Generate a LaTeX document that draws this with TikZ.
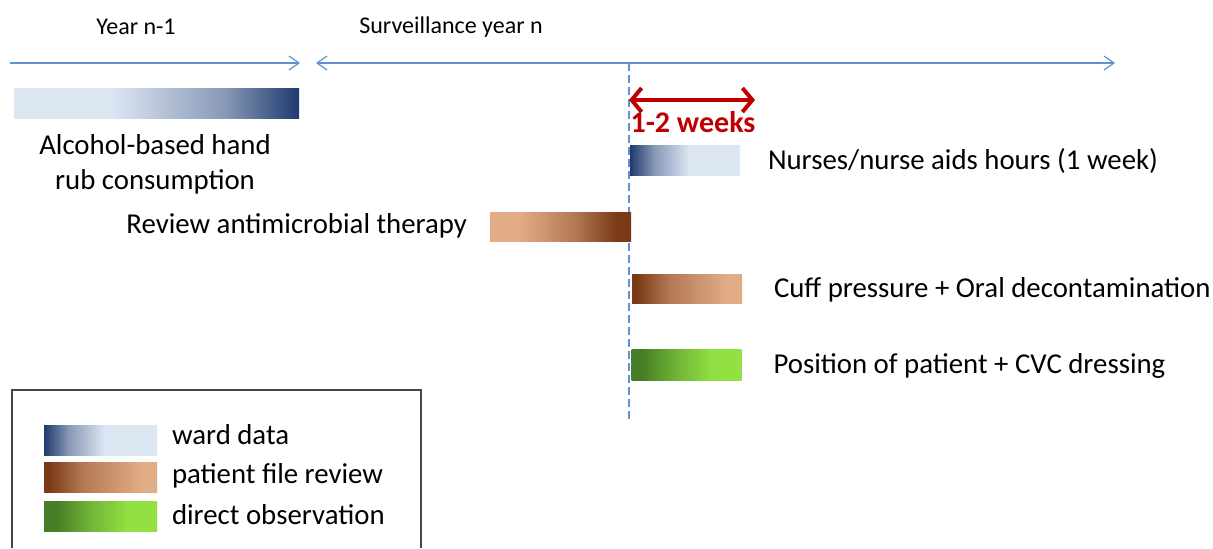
\documentclass[tikz,border=0pt]{standalone}
\usepackage{fontspec}
\setmainfont{Carlito}
\usetikzlibrary{arrows.meta,positioning}
\definecolor{warddark}{RGB}{31,58,110}
\definecolor{wardlight}{RGB}{221,230,243}
\colorlet{wardmid}{warddark!45!wardlight}
\definecolor{filedark}{RGB}{122,58,22}
\definecolor{filelight}{RGB}{226,172,135}
\colorlet{filemid}{filedark!45!filelight}
\definecolor{obsdark}{RGB}{70,125,38}
\definecolor{obslight}{RGB}{146,224,66}
\colorlet{obsmid}{obsdark!45!obslight}
\definecolor{timeblue}{RGB}{98,144,208}
\definecolor{spanred}{RGB}{192,0,0}
\definecolor{framegray}{RGB}{70,70,70}
% fades, dark end first
\pgfdeclarehorizontalshading{wardfade}{100bp}{color(0bp)=(warddark); color(25bp)=(warddark); color(36bp)=(wardmid); color(52bp)=(wardlight); color(100bp)=(wardlight)}
\pgfdeclarehorizontalshading{wardrise}{100bp}{color(0bp)=(wardlight); color(42bp)=(wardlight); color(62bp)=(wardmid); color(75bp)=(warddark); color(100bp)=(warddark)}
\pgfdeclarehorizontalshading{filefade}{100bp}{color(0bp)=(filedark); color(27bp)=(filedark); color(42bp)=(filemid); color(68bp)=(filelight); color(100bp)=(filelight)}
\pgfdeclarehorizontalshading{filerise}{100bp}{color(0bp)=(filelight); color(35bp)=(filelight); color(55bp)=(filemid); color(70bp)=(filedark); color(100bp)=(filedark)}
\pgfdeclarehorizontalshading{obsfade}{100bp}{color(0bp)=(obsdark); color(30bp)=(obsdark); color(45bp)=(obsmid); color(62bp)=(obslight); color(100bp)=(obslight)}
\tikzset{barb/.tip={Straight Barb[length=5pt,width=7pt]},
  bigbarb/.tip={Straight Barb[length=5pt,width=12pt]}}
\begin{document}
\begin{tikzpicture}[x=0.5pt,y=-0.5pt,
    every node/.style={inner sep=0pt,outer sep=0pt},
    bar/.style={minimum width=55pt,minimum height=15pt},
    big/.style={font=\fontsize{14.4}{17.5}\selectfont},
    txt/.style={big,text height=1.6ex,text depth=.3ex},
    small/.style={font=\fontsize{12}{14}\selectfont},
    axis/.style={timeblue,line width=0.6pt}]
  \useasboundingbox (0,0) rectangle (1213,548);
  % time axis
  \coordinate (t0) at (10,63);   \coordinate (t1) at (300,63);
  \coordinate (t2) at (316,63);  \coordinate (t3) at (1115,63);
  \draw[axis,-barb] (t0) -- (t1);
  \draw[axis,barb-barb] (t2) -- (t3);
  \node[small] (prev) at (136,27) {Year n-1};
  \node[small] (cur) at (451,27) {Surveillance year n};
  % start of year n and the 1-2 weeks window
  \coordinate (s0) at (629,63);  \coordinate (s1) at (629,422);
  \draw[timeblue,line width=0.6pt,dash pattern=on 4pt off 2pt] (s0) -- (s1);
  \coordinate (w0) at (629,100); \coordinate (w1) at (755,100);
  \draw[spanred,line width=2pt,bigbarb-bigbarb] (w0) -- (w1);
  \node[font=\fontsize{15}{17}\selectfont\bfseries,text=spanred] (win) at (693,122) {1-2 weeks};
  % indicators
  \node[bar,minimum width=142.5pt,shading=wardrise] (abhr) at (156.5,103) {};
  \node[big,align=center] (abhrlab) at (155,164) {Alcohol-based hand\\rub consumption};
  \node[bar,shading=wardfade] (nurse) at (685,160) {};
  \node[txt,right=14pt of nurse,yshift=-1.5pt] (nurselab) {Nurses/nurse aids hours (1 week)};
  \node[bar,minimum width=70.5pt,minimum height=14.5pt,shading=filerise] (atb) at (560.5,226.5) {};
  \node[txt,left=11.5pt of atb,yshift=-0.5pt] (atblab) {Review antimicrobial therapy};
  \node[bar,minimum height=14.5pt,shading=filefade] (cuff) at (687,288.5) {};
  \node[txt,right=16pt of cuff,yshift=-1.5pt] (cufflab) {Cuff pressure + Oral decontamination};
  \node[bar,minimum height=15.5pt,shading=obsfade] (pos) at (686.5,364.5) {};
  \node[txt,right=16pt of pos,yshift=-1.5pt] (poslab) {Position of patient + CVC dressing};
  % legend
  \draw[framegray,line width=0.6pt] (12,548) |- (421,390) -- (421,548);
  \node[bar,minimum width=56.5pt,shading=wardfade] (kward) at (100.5,440) {};
  \node[txt,right=7.5pt of kward,yshift=1pt] (kwardlab) {ward data};
  \node[bar,minimum width=56.5pt,shading=filefade] (kfile) at (100.5,477.5) {};
  \node[txt,right=7.5pt of kfile] (kfilelab) {patient file review};
  \node[bar,minimum width=56.5pt,shading=obsfade] (kobs) at (100.5,516) {};
  \node[txt,right=7.5pt of kobs,yshift=-1pt] (kobslab) {direct observation};
\end{tikzpicture}
\end{document}
